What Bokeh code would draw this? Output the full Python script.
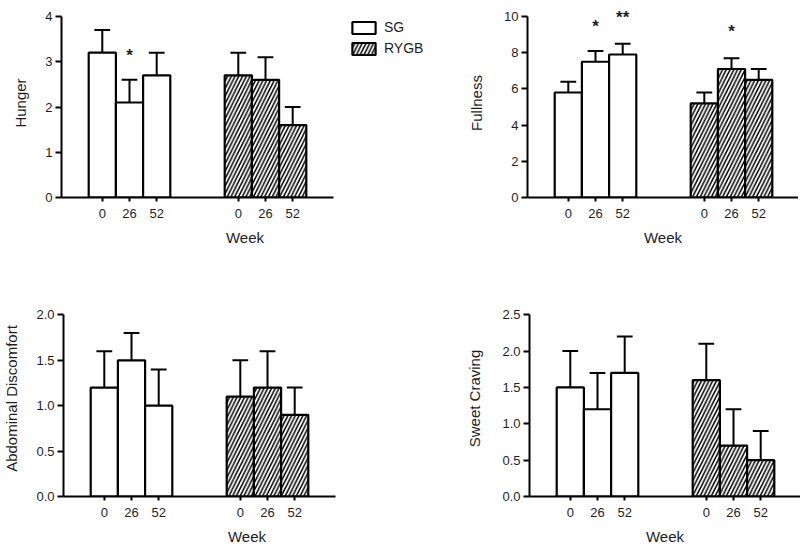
from bokeh.plotting import figure
from bokeh.models import Range1d, FixedTicker, Legend, LegendItem, PrintfTickFormatter
from bokeh.layouts import column, row
from bokeh.embed import file_html
from bokeh.resources import INLINE
from bokeh.core.properties import value

# ---------------- data ----------------
weeks = ["0", "26", "52"]
groups = ["SG", "RYGB"]

hunger_sg = [3.2, 2.1, 2.7]
hunger_sg_sem = [0.5, 0.5, 0.5]
hunger_rygb = [2.7, 2.6, 1.6]
hunger_rygb_sem = [0.5, 0.5, 0.4]

fullness_sg = [5.8, 7.5, 7.9]
fullness_sg_sem = [0.6, 0.6, 0.6]
fullness_rygb = [5.2, 7.1, 6.5]
fullness_rygb_sem = [0.6, 0.6, 0.6]

abdominal_sg = [1.2, 1.5, 1.0]
abdominal_sg_sem = [0.4, 0.3, 0.4]
abdominal_rygb = [1.1, 1.2, 0.9]
abdominal_rygb_sem = [0.4, 0.4, 0.3]

sweet_sg = [1.5, 1.2, 1.7]
sweet_sg_sem = [0.5, 0.5, 0.5]
sweet_rygb = [1.6, 0.7, 0.5]
sweet_rygb_sem = [0.5, 0.5, 0.4]

# significance marks: (group, week, label, height)
hunger_stars = [("SG", "26", "*", 3.2)]
fullness_stars = [("SG", "26", "*", 9.6), ("SG", "52", "**", 10.1), ("RYGB", "26", "*", 9.35)]
abdominal_stars = []
sweet_stars = []

hunger_ticks = [0, 1, 2, 3, 4]
fullness_ticks = [0, 2, 4, 6, 8, 10]
abdominal_ticks = [0.0, 0.5, 1.0, 1.5, 2.0]
sweet_ticks = [0.0, 0.5, 1.0, 1.5, 2.0, 2.5]

FONT = "Liberation Sans"
TXT = "#1e1e1e"
GROUP_GAP = 5


def xpos(g, w):
    return groups.index(g) * GROUP_GAP + weeks.index(w) + 1


def make_panel(ylabel, sg, sg_sem, rygb, rygb_sem, yticks, fmt, stars, y_end,
               frame_w, x_end, mb_left, mb_top, frame_h, mb_bottom, lab_standoff,
               legend=False):
    p = figure(frame_width=frame_w, frame_height=frame_h,
               min_border_left=mb_left, min_border_right=0,
               min_border_top=mb_top, min_border_bottom=mb_bottom,
               x_range=Range1d(-0.5, x_end), y_range=Range1d(0, y_end),
               output_backend="svg", toolbar_location=None)
    p.outline_line_color = None
    p.xgrid.visible = False
    p.ygrid.visible = False
    p.background_fill_color = "white"
    p.border_fill_color = "white"

    renderers = []
    for g, vals, sem, hatch in (("SG", sg, sg_sem, " "), ("RYGB", rygb, rygb_sem, "/")):
        xs = [xpos(g, w) for w in weeks]
        tops = [v + s for v, s in zip(vals, sem)]
        # error bars (upper only)
        p.segment(x0=xs, y0=vals, x1=xs, y1=tops, line_color="black", line_width=2)
        p.segment(x0=[x - 0.29 for x in xs], y0=tops, x1=[x + 0.29 for x in xs], y1=tops,
                  line_color="black", line_width=2)
        r = p.vbar(x=xs, top=vals, bottom=0, width=1.0, fill_color="white",
                   line_color="black", line_width=2.2,
                   hatch_pattern=hatch, hatch_color="black", hatch_scale=7.5,
                   hatch_weight=1.5)
        renderers.append((g, r))

    if stars:
        p.text(x=[xpos(g, w) for g, w, _, _ in stars], y=[h for _, _, _, h in stars],
               text=[t for _, _, t, _ in stars], text_font=value(FONT),
               text_font_size="17px", text_font_style="bold", text_color=TXT,
               text_align="center", text_baseline="middle", y_offset=3)

    # x axis
    xa = p.xaxis[0]
    xa.bounds = (-0.5, 9.5)
    xa.ticker = FixedTicker(ticks=[xpos(g, w) for g in groups for w in weeks])
    xa.major_label_overrides = {xpos(g, w): w for g in groups for w in weeks}
    xa.axis_label = "Week"
    # y axis
    ya = p.yaxis[0]
    ya.bounds = (0, yticks[-1])
    ya.ticker = FixedTicker(ticks=yticks)
    ya.formatter = PrintfTickFormatter(format=fmt)
    ya.axis_label = ylabel
    ya.axis_label_standoff = lab_standoff
    xa.axis_label_standoff = 8
    for ax in (xa, ya):
        ax.axis_line_width = 2
        ax.axis_line_color = "black"
        ax.major_tick_line_width = 2
        ax.major_tick_line_color = "black"
        ax.major_tick_in = 0
        ax.minor_tick_line_color = None
        ax.major_label_text_font = FONT
        ax.major_label_text_font_size = "13px"
        ax.major_label_text_color = TXT
        ax.axis_label_text_font = FONT
        ax.axis_label_text_font_size = "15px"
        ax.axis_label_text_font_style = "normal"
        ax.axis_label_text_color = TXT
    xa.major_tick_out = 4
    xa.major_label_standoff = 7
    ya.major_tick_out = 6
    ya.major_label_standoff = 3

    if legend:
        lg = Legend(items=[LegendItem(label=g, renderers=[r]) for g, r in renderers],
                    location=(288, 141), orientation="vertical",
                    glyph_width=29, glyph_height=15, label_height=15, spacing=5,
                    label_standoff=6, padding=0, margin=0,
                    border_line_color=None, background_fill_alpha=0,
                    label_text_font=FONT, label_text_font_size="14px",
                    label_text_color=TXT)
        p.add_layout(lg, "center")
    return p


UNIT = 27.2
LW, RW = 367, 271
top_h, bot_h = 189, 196

p1 = make_panel("Hunger", hunger_sg, hunger_sg_sem, hunger_rygb, hunger_rygb_sem,
                hunger_ticks, "%d", hunger_stars, top_h / 45.25,
                LW, -0.5 + LW / UNIT, 61, 8, top_h, 68, 13, legend=True)
p2 = make_panel("Fullness", fullness_sg, fullness_sg_sem, fullness_rygb, fullness_rygb_sem,
                fullness_ticks, "%d", fullness_stars, top_h / 18.1,
                RW, -0.5 + RW / UNIT, 99, 8, top_h, 68, 16)
p3 = make_panel("Abdominal Discomfort", abdominal_sg, abdominal_sg_sem, abdominal_rygb,
                abdominal_rygb_sem, abdominal_ticks, "%.1f", abdominal_stars, bot_h / 90.8,
                LW, -0.5 + LW / UNIT, 61, 35, bot_h, 55, 13)
p4 = make_panel("Sweet Craving", sweet_sg, sweet_sg_sem, sweet_rygb, sweet_rygb_sem,
                sweet_ticks, "%.1f", sweet_stars, bot_h / 72.7,
                RW, -0.5 + RW / UNIT, 99, 35, bot_h, 55, 16)

layout = column(row(p1, p2), row(p3, p4))
open("out.html", "w").write(file_html(layout, INLINE))
